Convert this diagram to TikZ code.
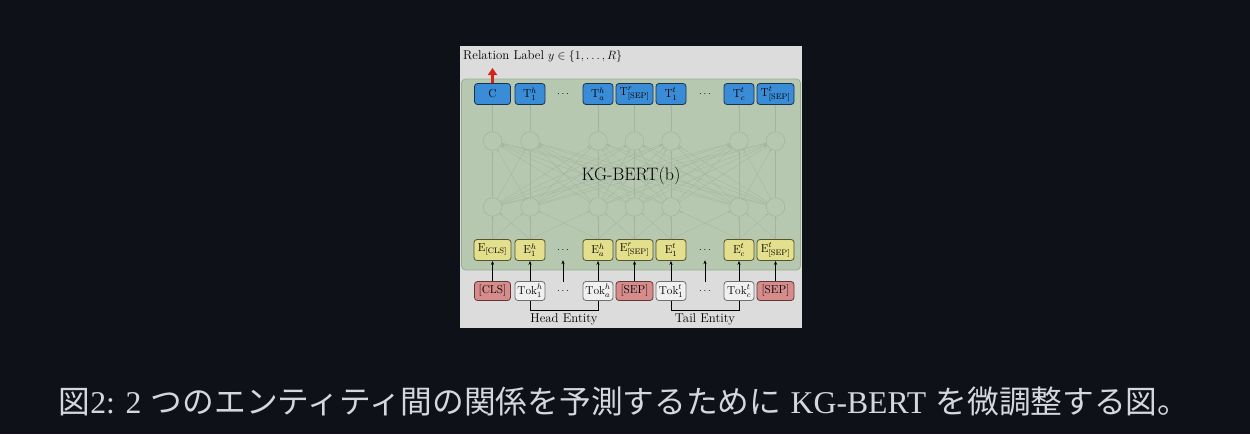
\documentclass[tikz,border=0pt]{standalone}
\usepackage{fontspec}
\newfontfamily\cjk{Noto Sans CJK JP}
\newfontfamily\capserif{Liberation Serif}
\usetikzlibrary{arrows.meta}
\definecolor{bgc}{RGB}{14,17,23}
\definecolor{panelc}{RGB}{220,220,220}
\definecolor{greenc}{RGB}{182,200,176}
\definecolor{greenb}{RGB}{150,175,145}
\definecolor{bluec}{RGB}{58,140,215}
\definecolor{blueb}{RGB}{25,50,80}
\definecolor{yelc}{RGB}{228,223,140}
\definecolor{yelb}{RGB}{85,85,45}
\definecolor{pinkc}{RGB}{215,140,140}
\definecolor{pinkb}{RGB}{100,55,55}
\definecolor{tokc}{RGB}{240,240,240}
\definecolor{tokb}{RGB}{110,110,110}
\definecolor{nodec}{RGB}{162,180,157}
\definecolor{edgec}{RGB}{163,181,158}
\definecolor{capc}{RGB}{212,216,222}
\definecolor{redc}{RGB}{215,35,20}
\tikzset{
  boxbase/.style={rounded corners=3pt, line width=0.8pt, minimum height=21pt, minimum width=30pt, inner sep=1pt, font=\fontsize{11.5}{13}\selectfont},
  tbox/.style={boxbase, fill=bluec, draw=blueb},
  ebox/.style={boxbase, fill=yelc, draw=yelb},
  sbox/.style={boxbase, fill=pinkc, draw=pinkb, minimum height=19pt},
  kbox/.style={boxbase, fill=tokc, draw=tokb, minimum height=19pt},
  dotn/.style={inner sep=0pt, minimum height=20pt, font=\fontsize{10}{12}\selectfont},
  neuron/.style={circle, draw=nodec, line width=0.5pt, minimum size=18.6pt, inner sep=0pt},
  edge/.style={draw=edgec, line width=0.3pt, -{Stealth[length=2.5pt,width=2pt]}},
  inarrow/.style={draw=black, line width=0.7pt, -{Stealth[length=4pt,width=3.2pt]}},
  brace/.style={draw=black, line width=0.7pt},
  lbl/.style={font=\fontsize{12.8}{14}\selectfont, inner sep=0pt}
}
\begin{document}
\begin{tikzpicture}[x=1pt,y=-1pt]
\useasboundingbox (0,0) rectangle (1250,434);
\fill[bgc] (0,0) rectangle (1250,434);
\fill[panelc] (460,46) rectangle (802,328);
\draw[fill=greenc, draw=greenb, line width=0.8pt, rounded corners=4pt] (461.5,79) rectangle (800.5,270);

\node[lbl, anchor=west] (rel) at (463,56) {Relation Label $y \in \{1,\ldots,R\}$};

% top row
\node[tbox, minimum width=36pt] (tC) at (492.5,94) {C};
\node[tbox] (t1h) at (530,94) {$\mathrm{T}^{h}_{1}$};
\node[dotn] (tdh) at (563,94) {$\cdots$};
\node[tbox] (tah) at (598,94) {$\mathrm{T}^{h}_{a}$};
\node[tbox, minimum width=37pt] (tsr) at (634.5,94) {$\mathrm{T}^{r}_{[\mathrm{SEP}]}$};
\node[tbox] (t1t) at (671,94) {$\mathrm{T}^{t}_{1}$};
\node[dotn] (tdt) at (705,94) {$\cdots$};
\node[tbox] (tct) at (739,94) {$\mathrm{T}^{t}_{c}$};
\node[tbox, minimum width=37pt] (tst) at (775.5,94) {$\mathrm{T}^{t}_{[\mathrm{SEP}]}$};

% neurons
\foreach \i/\x in {1/492.5,2/530,3/598,4/634.5,5/671,6/739,7/775.5}{
  \node[neuron] (u\i) at (\x,141) {};
  \node[neuron] (l\i) at (\x,207) {};
}

% E row
\node[ebox, minimum width=37pt] (e1) at (492.5,250) {$\mathrm{E}_{[\mathrm{CLS}]}$};
\node[ebox] (e2) at (530,250) {$\mathrm{E}^{h}_{1}$};
\node[dotn] (edh) at (563,250) {$\cdots$};
\node[ebox] (e3) at (598,250) {$\mathrm{E}^{h}_{a}$};
\node[ebox, minimum width=37pt] (e4) at (634.5,250) {$\mathrm{E}^{r}_{[\mathrm{SEP}]}$};
\node[ebox] (e5) at (671,250) {$\mathrm{E}^{t}_{1}$};
\node[dotn] (edt) at (705,250) {$\cdots$};
\node[ebox] (e6) at (739,250) {$\mathrm{E}^{t}_{c}$};
\node[ebox, minimum width=37pt] (e7) at (775.5,250) {$\mathrm{E}^{t}_{[\mathrm{SEP}]}$};

% Tok row
\node[sbox, minimum width=36pt] (k1) at (492.5,291) {[CLS]};
\node[kbox] (k2) at (530,291) {$\mathrm{Tok}^{h}_{1}$};
\node[dotn, minimum height=18pt] (kdh) at (563,291) {$\cdots$};
\node[kbox] (k3) at (598,291) {$\mathrm{Tok}^{h}_{a}$};
\node[sbox, minimum width=37pt] (k4) at (634.5,291) {[SEP]};
\node[kbox] (k5) at (671,291) {$\mathrm{Tok}^{t}_{1}$};
\node[dotn, minimum height=18pt] (kdt) at (705,291) {$\cdots$};
\node[kbox] (k6) at (739,291) {$\mathrm{Tok}^{t}_{c}$};
\node[sbox, minimum width=37pt] (k7) at (775.5,291) {[SEP]};

% network edges
\foreach \i in {1,...,7}{
  \foreach \j in {1,...,7}{
    \draw[edge] (l\i) -- (u\j);
  }
}
\foreach \i/\t in {1/tC,2/t1h,3/tah,4/tsr,5/t1t,6/tct,7/tst}{
  \draw[edge] (u\i) -- (\t);
}
\foreach \i in {1,...,7}{
  \draw[edge] (e\i) -- (l\i);
}
\foreach \i/\j in {1/2,2/1,2/3,3/2,3/4,4/3,4/5,5/4,5/6,6/5,6/7,7/6}{
  \draw[edge] (e\i.north) -- (l\j);
}

\node[font=\fontsize{18}{20}\selectfont, inner sep=0pt] (kg) at (631,176) {KG-BERT(b)};

% input arrows
\foreach \i in {1,...,7}{
  \draw[inarrow] (k\i) -- (e\i);
}
\draw[inarrow] (kdh.north) -- (edh.south);
\draw[inarrow] (kdt.north) -- (edt.south);

% braces
\draw[brace] (k2.south) -- ++(0,9) -| (k3.south);
\draw[brace] (k5.south) -- ++(0,9) -| (k6.south);
\node[lbl] (he) at (564,319) {Head Entity};
\node[lbl] (te) at (705,319) {Tail Entity};

% red output arrow
\coordinate (rtip) at (492.5,68);
\draw[redc, line width=2.4pt, -{Triangle[length=7pt,width=9pt]}] (tC.north) -- (rtip);

% caption
\node[text=capc, font=\fontsize{31.7}{36}\selectfont, inner sep=0pt] (cap) at (624,402)
  {{\cjk 図}{\capserif 2: 2} {\cjk つのエンティティ間の関係を予測するために} {\capserif KG-BERT} {\cjk を微調整する図。}};
\end{tikzpicture}
\end{document}
